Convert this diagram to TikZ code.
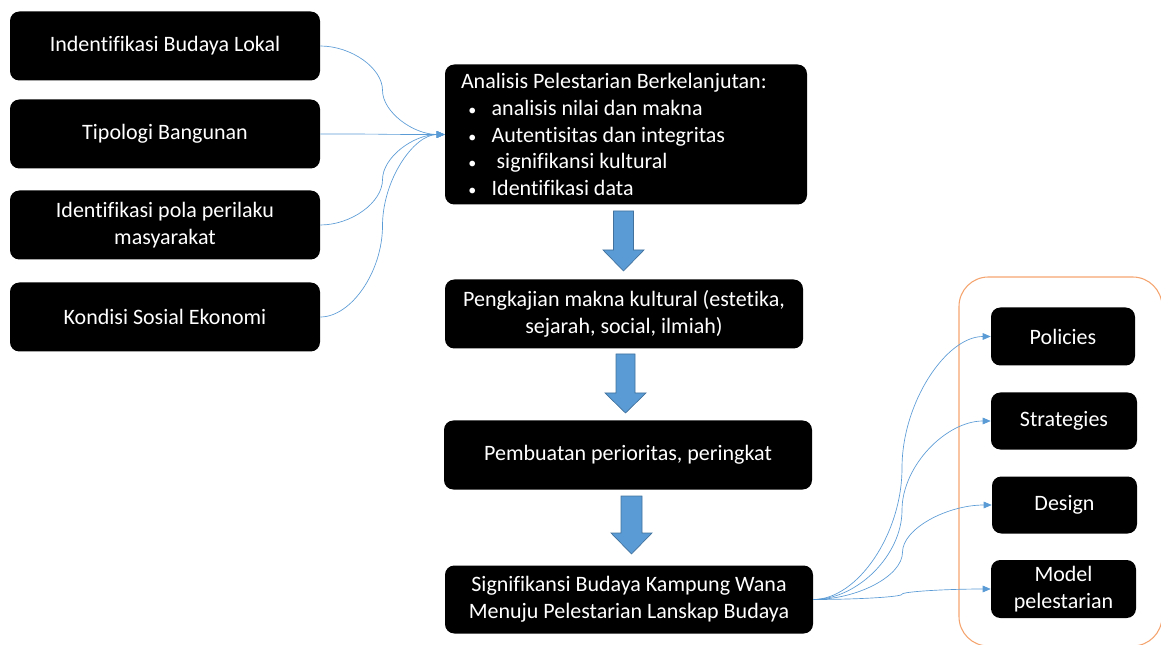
\documentclass[tikz,border=0pt]{standalone}
\usepackage{fontspec}
\setmainfont{Carlito}[Ligatures=NoCommon]
\usetikzlibrary{calc,arrows.meta}

\definecolor{linkblue}{RGB}{91,155,213}
\definecolor{arrowfill}{RGB}{91,155,213}
\definecolor{arrowedge}{RGB}{65,113,156}
\definecolor{frameorange}{RGB}{244,164,110}

\newcommand{\itembul}{\makebox[23pt][l]{\hspace{5.5pt}{\fontsize{12}{12}\selectfont\textbullet}}}

\tikzset{
  blackbox/.style={fill=black, text=white, rounded corners=7pt, align=center, inner sep=0pt,
    font=\fontsize{16.5}{20}\selectfont},
  link/.style={draw=linkblue, line width=0.5pt, -{Triangle[length=6pt,width=5pt]}},
  curvelink/.style={to path={let \p1=(\tikztostart), \p2=(\tikztotarget) in
    .. controls ({0.75*\x1+0.25*\x2},\y1) and ({0.5*\x1+0.5*\x2},{0.75*\y1+0.25*\y2})
    .. ({0.5*\x1+0.5*\x2},{0.5*\y1+0.5*\y2})
    .. controls ({0.5*\x1+0.5*\x2},{0.25*\y1+0.75*\y2}) and ({0.25*\x1+0.75*\x2},\y2)
    .. (\tikztotarget) \tikztonodes}},
  blockarrow/.style={fill=arrowfill, draw=arrowedge, line width=0.5pt},
}

\begin{document}
\begin{tikzpicture}[x=0.75pt,y=0.75pt,yscale=-1,xscale=1]
	\useasboundingbox (0,0) rectangle (1161,645);
	
	%Rounded Rect (frame of the outputs)
	\draw [frameorange, line width=0.8pt, rounded corners=22pt] (959,277) rectangle (1162,646);
	
	% Left column
	\node [blackbox, minimum width=232.5pt, minimum height=51.75pt] (budaya) at (165,46) {Indentifikasi Budaya Lokal};
	\node [blackbox, minimum width=232.5pt, minimum height=51.75pt] (tipologi) at (165,134) {Tipologi Bangunan};
	\node [blackbox, minimum width=232.5pt, minimum height=51.75pt] (perilaku) at (165,225) {Identifikasi pola perilaku\\masyarakat};
	\node [blackbox, minimum width=232.5pt, minimum height=51.75pt] (sosial) at (165,317) {Kondisi Sosial Ekonomi};
	
	% Middle column
	\node [blackbox, minimum width=271.5pt, minimum height=105pt, text width=247.5pt, align=flush left] (analisis) at (626,134.5)
	  {Analisis Pelestarian Berkelanjutan:\\
	   \itembul analisis nilai dan makna\\
	   \itembul Autentisitas dan integritas\\
	   \itembul\ signifikansi kultural\\
	   \itembul Identifikasi data};
	\node [blackbox, minimum width=268.5pt, minimum height=51.75pt] (pengkajian) at (624,314) {Pengkajian makna kultural (estetika,\\sejarah, social, ilmiah)};
	\node [blackbox, minimum width=276pt, minimum height=51.75pt] (pembuatan) at (628,455) {Pembuatan perioritas, peringkat};
	\node [blackbox, minimum width=276pt, minimum height=51pt] (signifikansi) at (629,599.5) {Signifikansi Budaya Kampung Wana\\Menuju Pelestarian Lanskap Budaya};
	
	% Right column
	\node [blackbox, minimum width=108pt, minimum height=43.5pt] (policies) at (1063,336.5) {Policies};
	\node [blackbox, minimum width=109.5pt, minimum height=42.75pt] (strategies) at (1064,421) {Strategies};
	\node [blackbox, minimum width=108.75pt, minimum height=42.75pt] (design) at (1064.5,505) {Design};
	\node [blackbox, minimum width=108.75pt, minimum height=43.5pt] (model) at (1063.5,589) {Model\\pelestarian};
	
	%Curve Lines
	\draw [link] (budaya.east) to [curvelink] (analisis.west);
	\draw [link] (tipologi.east) to [curvelink] (analisis.west);
	\draw [link] (perilaku.east) to [curvelink] (analisis.west);
	\draw [link] (sosial.east) to [curvelink] (analisis.west);
	
	\draw [link] (signifikansi.east) to [curvelink] (policies.west);
	\draw [link] (signifikansi.east) to [curvelink] (strategies.west);
	\draw [link] (signifikansi.east) to [curvelink] (design.west);
	\draw [link] (signifikansi.east) to [curvelink] (model.west);
	
	%Down Arrows
	\draw [blockarrow] (613.5,211) -- (633.5,211) -- (633.5,250) -- (644,250) -- (623.5,271) -- (603,250) -- (613.5,250) -- cycle;
	\draw [blockarrow] (616,354) -- (635,354) -- (635,393) -- (646,393) -- (625.5,413) -- (605,393) -- (616,393) -- cycle;
	\draw [blockarrow] (621,496) -- (642,496) -- (642,533) -- (652,533) -- (631.5,554) -- (611,533) -- (621,533) -- cycle;
	
\end{tikzpicture}
\end{document}
